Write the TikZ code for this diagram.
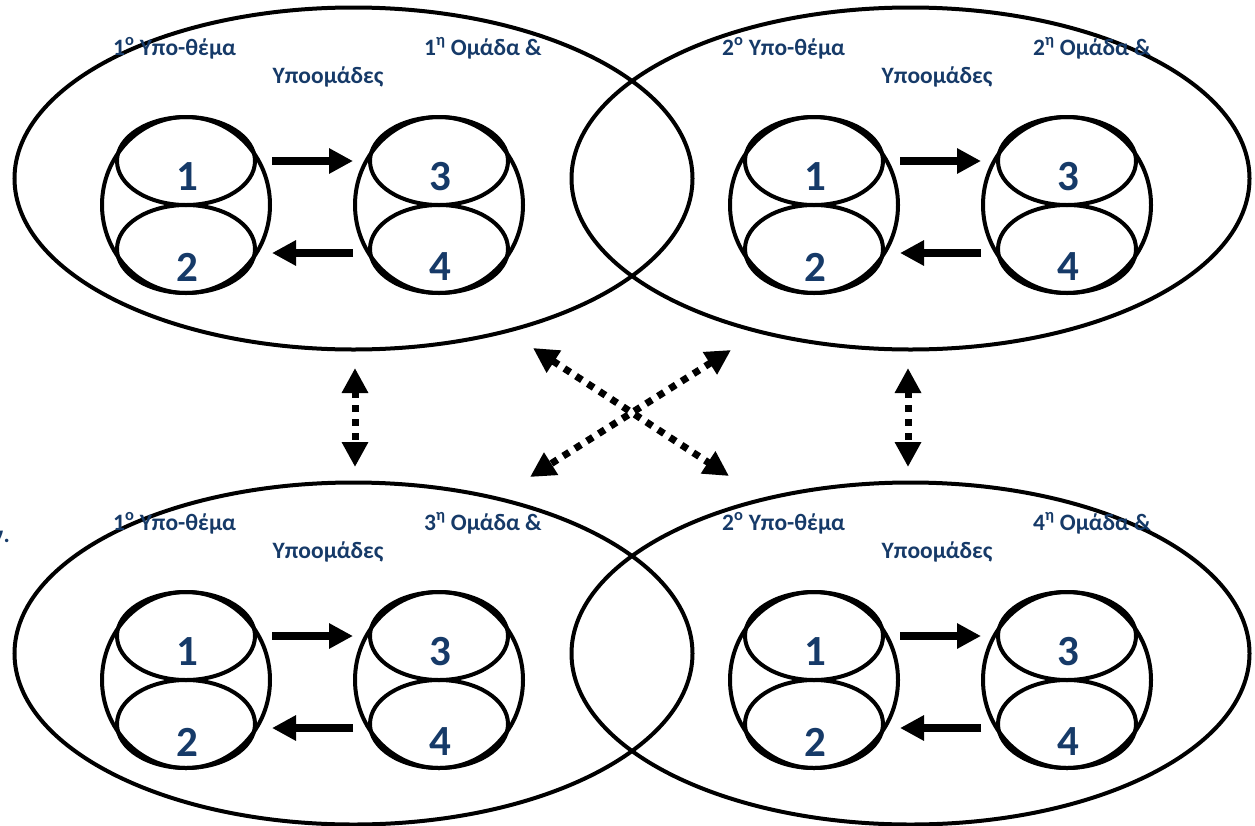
\documentclass[tikz,border=0pt]{standalone}
\usepackage{fontspec}
\setmainfont{Carlito}
\usetikzlibrary{arrows.meta,shapes.geometric}
\definecolor{txtblue}{RGB}{22,58,104}
\begin{document}
\begin{tikzpicture}[x=1pt,y=-1pt,
 big/.style={draw, line width=4pt, ellipse, minimum width=678pt, minimum height=342pt, inner sep=0pt},
 grp/.style={draw, line width=4pt, ellipse, minimum width=168pt, minimum height=176pt, inner sep=0pt},
 sub/.style={draw, line width=4pt, ellipse, minimum width=138pt, minimum height=88pt, inner sep=0pt},
 num/.style={text=txtblue, font=\fontsize{43}{43}\selectfont\bfseries, inner sep=0pt},
 lbl/.style={text=txtblue, font=\fontsize{23.5}{23.5}\selectfont\bfseries, inner sep=0pt},
 flow/.style={line width=8pt, -{Triangle[width=24pt,length=24pt]}},
 link/.style={line width=7pt, dash pattern=on 7pt off 7pt, {Triangle[width=25pt,length=25pt]}-{Triangle[width=25pt,length=25pt]}}
]
\useasboundingbox (0,0) rectangle (1255,825);

% big ellipses
\node[big] (E1) at (353.5,178.5) {};
\node[big] (E2) at (910.5,178.5) {};
\node[big] (E3) at (353.5,653.5) {};
\node[big] (E4) at (910.5,653.5) {};

% group clusters
\foreach \g/\x/\y/\k in {a/186/205/1, b/439/205/1, c/814/205/2, d/1067/205/2,
                         e/186/680/3, f/439/680/3, g/814/680/4, h/1067/680/4} {
  \node[grp] (G\g) at (\x,\y) {};
  \node[sub] (G\g T) at (\x,\y-44) {};
  \node[sub] (G\g B) at (\x,\y+44) {};
}

% numbers
\foreach \g/\x/\y in {a/187/205, c/815/205, e/187/680, g/815/680} {
  \node[num] (N\g1) at (\x,\y-28) {1};
  \node[num] (N\g2) at (\x,\y+62) {2};
}
\foreach \g/\x/\y in {b/440/205, d/1068/205, f/440/680, h/1068/680} {
  \node[num] (N\g3) at (\x,\y-28) {3};
  \node[num] (N\g4) at (\x,\y+62) {4};
}

% solid arrows
\foreach \l/\r in {a/b, c/d, e/f, g/h} {
  \draw[flow] (G\l.east |- G\l T) -- (G\r.west |- G\l T);
  \draw[flow] ([yshift=-4pt]G\r.west |- G\r B) -- ([yshift=-4pt]G\l.east |- G\r B);
}

% labels
\node[lbl, anchor=base west] (L1) at (113,55) {1\textsuperscript{ο} Υπο-θέμα};
\node[lbl, anchor=base east] (L2) at (542,55) {1\textsuperscript{η} Ομάδα \&};
\node[lbl, anchor=base] (L3) at (328,83) {Υποομάδες};
\node[lbl, anchor=base west] (L4) at (722,55) {2\textsuperscript{ο} Υπο-θέμα};
\node[lbl, anchor=base east] (L5) at (1151,55) {2\textsuperscript{η} Ομάδα \&};
\node[lbl, anchor=base] (L6) at (937,83) {Υποομάδες};
\node[lbl, anchor=base west] (L7) at (113,530) {1\textsuperscript{ο} Υπο-θέμα};
\node[lbl, anchor=base east] (L8) at (542,530) {3\textsuperscript{η} Ομάδα \&};
\node[lbl, anchor=base] (L9) at (328,558) {Υποομάδες};
\node[lbl, anchor=base west] (L10) at (722,530) {2\textsuperscript{ο} Υπο-θέμα};
\node[lbl, anchor=base east] (L11) at (1151,530) {4\textsuperscript{η} Ομάδα \&};
\node[lbl, anchor=base] (L12) at (937,558) {Υποομάδες};
\node[lbl, anchor=base east] (L0) at (10,542) {ν.};

% dotted double arrows
\coordinate (v1a) at (355,368);
\coordinate (v1b) at (355,467);
\coordinate (v2a) at (908,368);
\coordinate (v2b) at (908,467);
\coordinate (d1a) at (533,348);
\coordinate (d1b) at (729,476);
\coordinate (d2a) at (731,350);
\coordinate (d2b) at (530,477);
\draw[link] (v1a) -- (v1b);
\draw[link] (v2a) -- (v2b);
\draw[link] (d1a) -- (d1b);
\draw[link] (d2a) -- (d2b);
\end{tikzpicture}
\end{document}
